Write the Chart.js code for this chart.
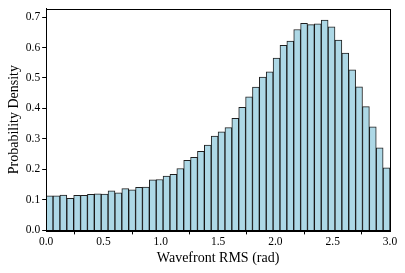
<!DOCTYPE html>
<html>
<head>
<meta charset="utf-8">
<script src="https://cdn.jsdelivr.net/npm/chart.js@4/dist/chart.umd.min.js"></script>
<style>
html,body{margin:0;padding:0;background:#fff;}
#wrap{width:405px;height:273px;position:relative;}
</style>
</head>
<body>
<div id="wrap"><canvas id="c"></canvas></div>
<script>
const binStart = 0.0;
const binWidth = 0.06;
const density = [
  0.113, 0.113, 0.116, 0.105, 0.115, 0.115, 0.118, 0.120, 0.119, 0.130,
  0.123, 0.137, 0.133, 0.141, 0.142, 0.166, 0.167, 0.178, 0.184, 0.203,
  0.230, 0.240, 0.259, 0.280, 0.309, 0.323, 0.337, 0.368, 0.404, 0.438,
  0.470, 0.503, 0.520, 0.565, 0.607, 0.621, 0.659, 0.679, 0.675, 0.678,
  0.690, 0.668, 0.624, 0.582, 0.527, 0.471, 0.406, 0.340, 0.271, 0.205
];
const xTicks = [0.0, 0.5, 1.0, 1.5, 2.0, 2.5, 3.0];
const yTicks = [0.0, 0.1, 0.2, 0.3, 0.4, 0.5, 0.6, 0.7];
const xLabel = 'Wavefront RMS (rad)';
const yLabel = 'Probability Density';

const points = density.map((v, i) => ({x: binStart + binWidth * (i + 0.5), y: v}));
const FONT = "'Liberation Serif', 'Times New Roman', serif";

const frame = {
  id: 'frame',
  afterDraw(chart) {
    const {ctx, chartArea: a} = chart;
    ctx.save();
    ctx.strokeStyle = '#000';
    ctx.lineWidth = 1;
    ctx.strokeRect(Math.round(a.left) + 0.5, Math.round(a.top) + 0.5, Math.round(a.right - a.left), Math.round(a.bottom - a.top));
    ctx.restore();
  }
};

new Chart(document.getElementById('c'), {
  type: 'bar',
  data: {
    datasets: [{
      data: points,
      backgroundColor: '#add8e6',
      borderColor: 'rgba(0,0,0,0.88)',
      borderWidth: 1,
      borderSkipped: 'start',
      barPercentage: 1.0,
      categoryPercentage: 1.0
    }]
  },
  options: {
    responsive: true,
    maintainAspectRatio: false,
    animation: false,
    layout: {padding: {top: 2, right: 15, left: 6, bottom: 6}},
    plugins: {legend: {display: false}, tooltip: {enabled: false}},
    scales: {
      x: {
        type: 'linear',
        min: 0, max: 3.0,
        offset: false,
        afterBuildTicks: (s) => { s.ticks = xTicks.map(v => ({value: v})); },
        ticks: {color: '#000', font: {family: FONT, size: 11.5}, padding: 1, maxRotation: 0,
                callback: (v) => Number(v).toFixed(1)},
        grid: {drawOnChartArea: false, drawTicks: true, tickLength: 4, color: '#000'},
        border: {display: true, color: '#000', width: 1},
        title: {display: true, text: xLabel, color: '#000', font: {family: FONT, size: 14}, padding: {top: 0, bottom: 0}}
      },
      y: {
        min: 0, max: 0.7266,
        afterBuildTicks: (s) => { s.ticks = yTicks.map(v => ({value: v})); },
        ticks: {color: '#000', font: {family: FONT, size: 11.5}, padding: 2,
                callback: (v) => Number(v).toFixed(1)},
        grid: {drawOnChartArea: false, drawTicks: true, tickLength: 4, color: '#000'},
        border: {display: true, color: '#000', width: 1},
        title: {display: true, text: yLabel, color: '#000', font: {family: FONT, size: 14}, padding: {top: 0, bottom: 1}}
      }
    }
  },
  plugins: [frame]
});
</script>
</body>
</html>
